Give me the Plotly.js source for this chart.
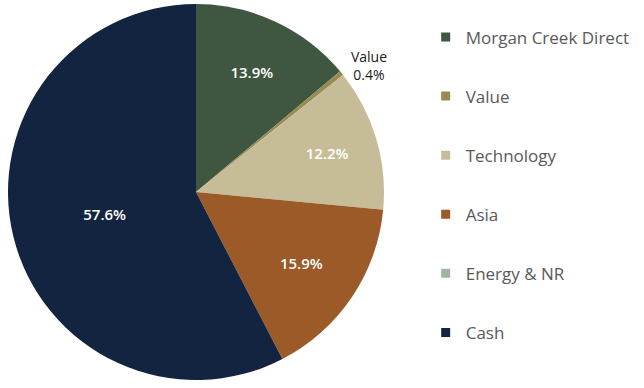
<!DOCTYPE html>
<html><head><meta charset="utf-8">
<script src="https://cdn.plot.ly/plotly-3.0.1.min.js"></script>
<style>html,body{margin:0;padding:0;background:#fff}</style>
</head><body><div id="chart" style="width:644px;height:388px"></div>
<script>
const categories = ["Morgan Creek Direct", "Value", "Technology", "Asia", "Energy & NR", "Cash"];
const values = [13.9, 0.4, 12.2, 15.9, 0.0, 57.6];
const colors = ["#3f5641", "#978b51", "#c6bd98", "#9b5a28", "#9fb5a0", "#12243f"];

const fontFam = "'Open Sans', Lato, sans-serif";
const textPositions = categories.map(c => c === "Value" ? "outside" : "inside");
const textTemplates = categories.map(c => c === "Value" ? "%{label}<br>%{value:.1f}%" : "%{value:.1f}%");

const pie = {
  type: "pie",
  labels: categories,
  values: values,
  marker: {colors: colors, line: {width: 0}},
  sort: false,
  direction: "clockwise",
  rotation: 0,
  textposition: textPositions,
  texttemplate: values.map((v, i) => v > 0 ? textTemplates[i] : ""),
  insidetextfont: {color: "#ffffff", size: 15, family: fontFam, weight: 600},
  outsidetextfont: {color: "#1a1a1a", size: 14, family: fontFam, weight: 500},
  insidetextorientation: "horizontal",
  hoverinfo: "label+percent",
  showlegend: false,
  domain: {x: [8/644, 384/644], y: [8/388, 384/388]}
};

const legendTraces = categories.map((c, i) => ({
  type: "scatter", x: [null], y: [null], mode: "markers", name: c,
  legendgroup: "g" + i,
  marker: {symbol: "square", size: 9, color: colors[i]},
  hoverinfo: "skip"
}));

const layout = {
  width: 644, height: 388,
  margin: {l: 0, r: 0, t: 0, b: 0},
  paper_bgcolor: "#ffffff", plot_bgcolor: "#ffffff",
  showlegend: true,
  legend: {x: 0.661, xanchor: "left", y: 0.95, yanchor: "top",
           font: {family: fontFam, size: 17, color: "#595959", weight: 500},
           tracegroupgap: 34, itemwidth: 30},
  xaxis: {visible: false, domain: [0.99, 1]},
  yaxis: {visible: false, domain: [0.99, 1]}
};

Plotly.newPlot("chart", [pie].concat(legendTraces), layout, {displayModeBar: false, staticPlot: true});
</script></body></html>
